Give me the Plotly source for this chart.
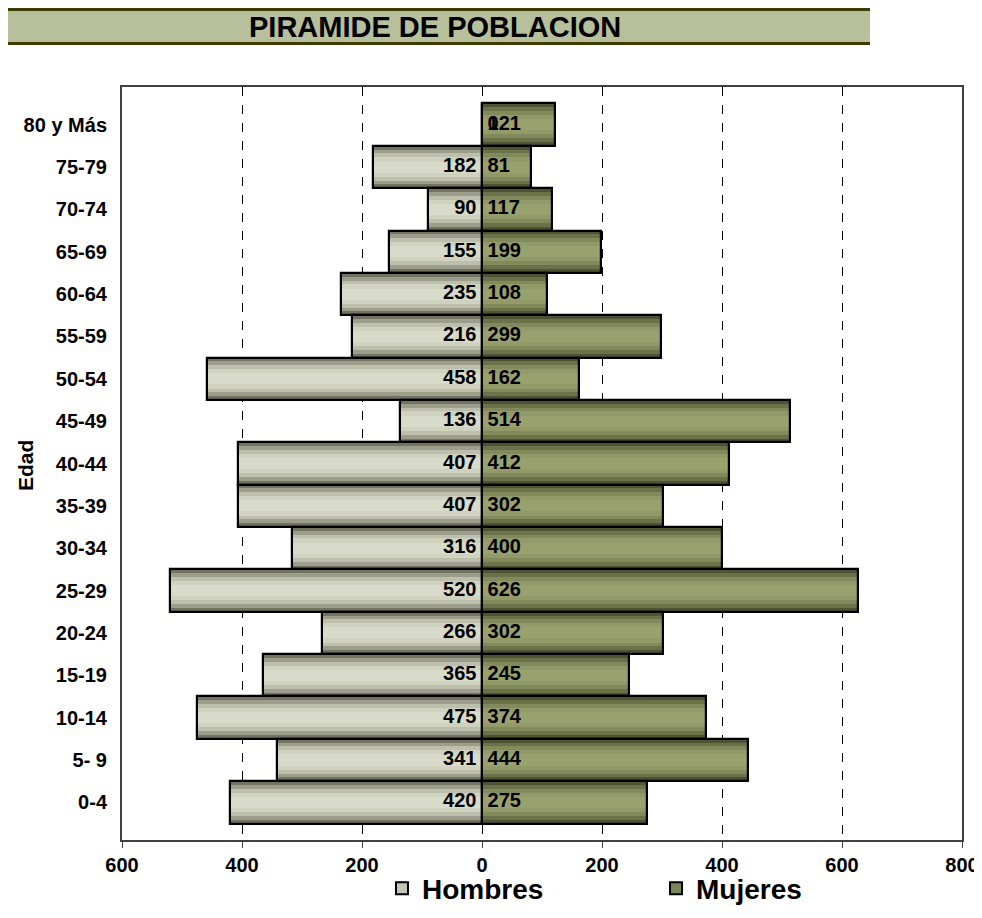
import plotly.graph_objects as go

# Grupos de edad (de abajo hacia arriba)
EDADES = ["0-4", "5- 9", "10-14", "15-19", "20-24", "25-29", "30-34", "35-39",
          "40-44", "45-49", "50-54", "55-59", "60-64", "65-69", "70-74",
          "75-79", "80 y Más"]
HOMBRES = [420, 341, 475, 365, 266, 520, 316, 407, 407, 136, 458, 216, 235,
           155, 90, 182, 0]
MUJERES = [275, 444, 374, 245, 302, 626, 400, 302, 412, 514, 162, 299, 108,
           199, 117, 81, 121]
TICK_VALS = [-600, -400, -200, 0, 200, 400, 600, 800]
TICK_TEXT = ["600", "400", "200", "0", "200", "400", "600", "800"]

FONT = "Liberation Sans, Arial, sans-serif"

# degradado vertical: borde oscuro -> centro claro
GRAD_H = ["#727461", "#9c9e8b", "#bcbfab", "#cfd2bf", "#d9dbca"]
GRAD_M = ["#4e5334", "#6b7249", "#828a5c", "#929a69", "#99a26f"]
WIDTHS = [1.0, 0.82, 0.64, 0.46, 0.26]

hombres_neg = [-v for v in HOMBRES]

fig = go.Figure()

# barras con leyenda (color medio para el símbolo)
fig.add_trace(go.Bar(
    y=EDADES, x=hombres_neg, orientation="h", width=1.0, name="Hombres",
    marker=dict(color="#c4c7b3", line=dict(color="black", width=2)),
))
fig.add_trace(go.Bar(
    y=EDADES, x=MUJERES, orientation="h", width=1.0, name="Mujeres",
    marker=dict(color="#7d855a", line=dict(color="black", width=2)),
))

# capas del degradado
for w, ch, cm in zip(WIDTHS, GRAD_H, GRAD_M):
    for xs, col in ((hombres_neg, ch), (MUJERES, cm)):
        fig.add_trace(go.Bar(
            y=EDADES, x=xs, orientation="h", width=w, showlegend=False,
            marker=dict(color=col, line=dict(width=0)), hoverinfo="skip",
        ))

# contorno encima de los degradados
for xs in (hombres_neg, MUJERES):
    fig.add_trace(go.Bar(
        y=EDADES, x=xs, orientation="h", width=1.0, showlegend=False,
        marker=dict(color="rgba(0,0,0,0)", line=dict(color="black", width=2.2)),
        hoverinfo="skip",
    ))

# etiquetas de valores junto al eje 0
fig.add_trace(go.Scatter(
    y=EDADES, x=[0] * len(EDADES), mode="text", showlegend=False,
    text=[f" {v}" if v == 0 else f"{v} " for v in HOMBRES],
    textposition=["middle right" if v == 0 else "middle left" for v in HOMBRES],
    textfont=dict(family=FONT, size=20, color="black", weight="bold"),
    cliponaxis=False, hoverinfo="skip",
))
fig.add_trace(go.Scatter(
    y=EDADES, x=[0] * len(EDADES), mode="text", showlegend=False,
    text=[f" {v}" for v in MUJERES], textposition="middle right",
    textfont=dict(family=FONT, size=20, color="black", weight="bold"),
    cliponaxis=False, hoverinfo="skip",
))

# banda del título
fig.add_shape(type="rect", xref="paper", yref="paper",
              x0=-0.1357, x1=0.8905, y0=1.0558, y1=1.1049,
              fillcolor="#b8bf9b", line_width=0, layer="below")
for yy in (1.0578, 1.1029):
    fig.add_shape(type="line", xref="paper", yref="paper",
                  x0=-0.1357, x1=0.8905, y0=yy, y1=yy,
                  line=dict(color="#3d3b03", width=3))
fig.add_annotation(text="PIRAMIDE DE POBLACION", xref="paper", yref="paper",
                   x=0.3726, y=1.0797, xanchor="center", yanchor="middle",
                   showarrow=False,
                   font=dict(family=FONT, size=29, color="black", weight="bold"))

# título del eje vertical
fig.add_annotation(text="Edad", xref="paper", yref="paper",
                   x=-0.1155, y=0.498, xanchor="center", yanchor="middle",
                   textangle=-90, showarrow=False,
                   font=dict(family=FONT, size=21, color="black", weight="bold"))

fig.update_layout(
    barmode="overlay",
    bargap=0,
    width=974, height=900,
    margin=dict(l=114, r=20, t=79, b=68),
    paper_bgcolor="white",
    plot_bgcolor="white",
    font=dict(family=FONT, color="black"),
    showlegend=True,
    legend=dict(orientation="h", x=0.3095, xanchor="left",
                yref="container", y=0.0495, yanchor="top",
                entrywidth=229, entrywidthmode="pixels",
                font=dict(family=FONT, size=28, color="black", weight="bold"),
                bgcolor="rgba(0,0,0,0)", itemclick=False),
    xaxis=dict(range=[-600, 800], tickvals=TICK_VALS, ticktext=TICK_TEXT,
               showgrid=True, gridcolor="black", gridwidth=1, griddash="dash",
               zeroline=False, showline=True, linecolor="#404040", linewidth=2,
               mirror=True, ticks="outside", ticklen=6, tickcolor="#404040",
               automargin=False,
               tickfont=dict(family=FONT, size=20, color="black", weight="bold")),
    yaxis=dict(categoryorder="array", categoryarray=EDADES,
               showgrid=False, zeroline=False, showline=True,
               linecolor="#404040", linewidth=2, mirror=True, ticks="",
               ticklabelstandoff=9, automargin=False,
               tickfont=dict(family=FONT, size=20, color="black", weight="bold")),
)

fig.write_html("out.html")
